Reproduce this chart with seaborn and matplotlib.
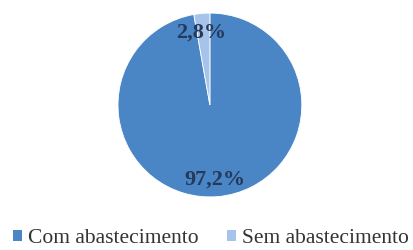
import matplotlib
matplotlib.use("Agg")
import matplotlib.pyplot as plt
import seaborn as sns
import numpy as np
from matplotlib.patches import Patch

sns.set_theme(style="white")
plt.rcParams['font.family'] = ['Liberation Serif', 'DejaVu Serif']

categories = ["Com abastecimento", "Sem abastecimento"]
values = [97.2, 2.8]
labels_pct = ["97,2%", "2,8%"]
colors = ["#4a85c6", "#a6c4ea"]

fig = plt.figure(figsize=(4.14, 2.5), dpi=100)
ax = fig.add_axes([0.285, 0.212, 0.444, 0.736])
wedges, _ = ax.pie(values, colors=colors, startangle=90, counterclock=False,
                   wedgeprops=dict(edgecolor="white", linewidth=0.6))
ax.set_xlim(-1, 1)
ax.set_ylim(-1, 1)
ax.set_aspect("equal")

theta = 90.0
for v, lab in zip(values, labels_pct):
    mid = theta - v / 100 * 360 / 2
    theta -= v / 100 * 360
    r = 0.79 if v < 50 else 0.82
    ax.text(r * np.cos(np.radians(mid)) - (0.03 if v < 50 else 0.02), r * np.sin(np.radians(mid)), lab,
            ha="center", va="center", fontsize=16, fontweight="bold",
            fontfamily=["Liberation Serif", "DejaVu Serif"], color="#25395a")

handles = [Patch(facecolor=c, edgecolor="none") for c in colors]
fig.legend(handles, categories, loc="center", bbox_to_anchor=(0.51, 0.045),
           ncol=2, frameon=False,
           prop={"family": ["Liberation Serif", "DejaVu Serif"], "size": 15.5},
           handlelength=0.4, handleheight=0.4, handletextpad=0.3,
           columnspacing=1.3, labelcolor="#333333")

fig.savefig("out.png", dpi=100)
